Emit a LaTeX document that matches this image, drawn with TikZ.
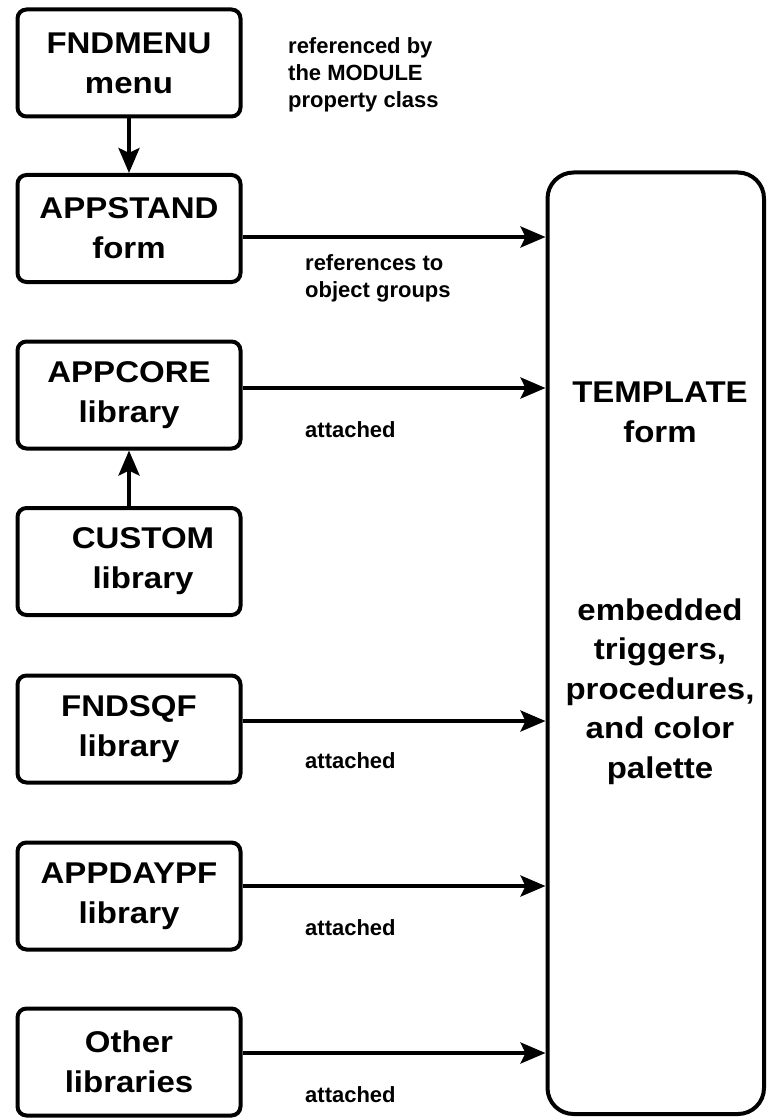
\documentclass[tikz,border=0pt]{standalone}
\usepackage{fontspec}
\setmainfont{Liberation Sans}
\newfontfamily\bigfont{Liberation Sans}[FakeStretch=1.1]
\usetikzlibrary{arrows.meta}

\begin{document}
\begin{tikzpicture}[x=1pt,y=-1pt,
  unit/.style={draw, line width=4pt, rounded corners=9pt,
    minimum width=223pt, minimum height=107pt, inner sep=0pt,
    align=center, font=\bigfont\bfseries\fontsize{30}{40}\selectfont},
  bigbox/.style={draw, line width=4pt, rounded corners=26pt,
    minimum width=216.5pt, minimum height=941.5pt, inner sep=0pt},
  bigtext/.style={inner sep=0pt, align=center,
    font=\bigfont\bfseries\fontsize{30}{39.5}\selectfont},
  note/.style={inner sep=0pt, align=left,
    font=\bfseries\fontsize{22}{27}\selectfont},
  link/.style={line width=4pt,
    -{Stealth[length=25pt,width=21pt,inset=5pt]}}
]
\useasboundingbox (0,0) rectangle (767,1118);

% modules on the left
\node[unit] (fndmenu)  at (129,63)    {FNDMENU\\menu};
\node[unit] (appstand) at (129,228.5) {APPSTAND\\form};
\node[unit] (appcore)  at (129,395)   {APPCORE\\library};
\node[unit] (custom)   at (129,561.5) {\hspace*{28pt}CUSTOM\\\hspace*{28pt}library};
\node[unit] (fndsqf)   at (129,729)   {FNDSQF\\library};
\node[unit] (appdaypf) at (129,896)   {APPDAYPF\\library};
\node[unit] (other)    at (129,1062)  {Other\\libraries};

% the template form (base anchor = baseline of the last line)
\node[bigbox] (template) at (655.75,643.25) {};
\node[bigtext, anchor=base] (tpltitle) at (660,442) {TEMPLATE\\form};
\node[bigtext, anchor=base] (tplbody) at (660,778)
  {embedded\\triggers,\\procedures,\\and color\\palette};

% vertical links
\draw[link] (fndmenu) -- (appstand);
\draw[link] (custom) -- (appcore);

% links into the template
\draw[link] (appstand.east |- 0,237)  -- (template.west |- 0,237);
\draw[link] (appcore.east |- 0,388)   -- (template.west |- 0,388);
\draw[link] (fndsqf.east |- 0,721)    -- (template.west |- 0,721);
\draw[link] (appdaypf.east |- 0,886)  -- (template.west |- 0,886);
\draw[link] (other.east |- 0,1053)    -- (template.west |- 0,1053);

% annotations
\node[note, anchor=base west] (nmodule) at (288,108)
  {referenced by\\the MODULE\\property class};
\node[note, anchor=base west] (ngroups) at (305,297)
  {references to\\object groups};
\node[note, anchor=base west] (natt1) at (305,437)  {attached};
\node[note, anchor=base west] (natt2) at (305,768)  {attached};
\node[note, anchor=base west] (natt3) at (305,935)  {attached};
\node[note, anchor=base west] (natt4) at (305,1102) {attached};
\end{tikzpicture}
\end{document}
